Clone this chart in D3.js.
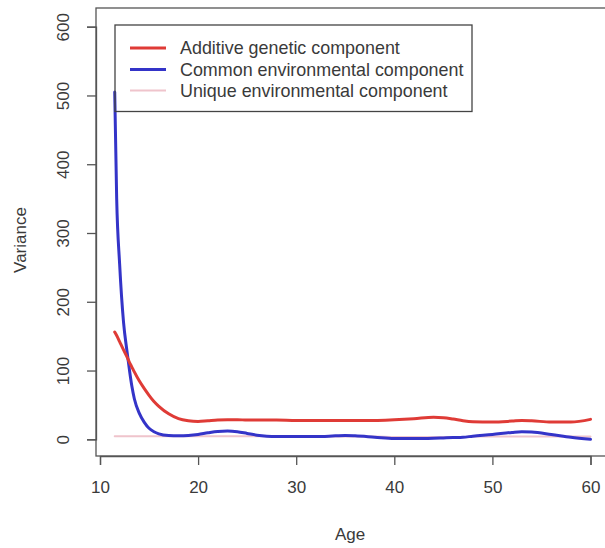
<!DOCTYPE html>
<html>
<head>
<meta charset="utf-8">
<script src="https://cdn.jsdelivr.net/npm/d3@7"></script>
<style>
  html, body { margin: 0; padding: 0; background: #fff; }
  svg { display: block; }
  text { font-family: "Liberation Sans", Arial, sans-serif; fill: #3a3a3a; }
</style>
</head>
<body>
<svg id="chart" width="605" height="548"></svg>
<script>
// Age grid shared by the three variance components
const ages = [11.5, 11.7, 12, 12.4, 12.75, 13, 13.25, 13.5, 14, 14.5, 15, 15.5, 16, 17, 18, 19, 20,
  21, 22, 23, 24, 25, 26, 27, 28, 30, 32, 34, 35, 36, 38, 40, 42, 44, 45, 46, 47, 48,
  50, 52, 53, 54, 56, 58, 60];

const additive = [156, 151, 142, 130, 120, 112, 105, 98, 85, 74, 64, 55, 48, 37, 30, 27, 26,
  27, 28, 28.5, 28.5, 28, 28, 28, 28, 27.5, 27.5, 27.5, 27.5, 27.5, 27.5, 28.5, 30, 32, 31.5, 29.5, 27, 25.5,
  25, 26.5, 27.5, 27, 25, 25, 29];

const commonEnv = [505, 350, 255, 170, 128, 101, 77, 59, 38, 25, 16, 11, 8, 5.5, 5, 5.5, 7,
  9.5, 11.5, 12, 11, 8.5, 6, 4.5, 4, 4, 4, 5, 5.5, 5, 3, 1, 1, 1.5, 2, 2.5, 3, 4.5,
  7, 10, 11, 10.5, 7, 3, 0];

const uniqueEnv = [4.5, 4.5, 4.5, 4.5, 4.5, 4.5, 4.5, 4.5, 4.5, 4.5, 4.5, 4.5, 4.5, 4.5, 4.5, 4.5, 4.5,
  4.5, 4.5, 4.5, 4.5, 4.5, 4.5, 4.5, 4.5, 4, 4, 4, 4, 4, 4, 3.5, 3.5, 3.5, 3.5, 3.5, 3.5, 4,
  4, 4, 4, 4, 4, 4, 4];

const xTicks = [10, 20, 30, 40, 50, 60];
const yTicks = [0, 100, 200, 300, 400, 500, 600];

const seriesNames = ["Additive genetic component", "Common environmental component", "Unique environmental component"];
const seriesColors = ["#df3b36", "#3434c8", "#efc4cc"];
const seriesWidths = [3, 3, 2];

const svg = d3.select("#chart");

// Plot frame
const box = { left: 96, right: 610, top: 8, bottom: 456 };

const x = d3.scaleLinear().domain([10, 60]).range([100, 590.5]);
const y = d3.scaleLinear().domain([0, 600]).range([439.3, 26.7]);

svg.append("rect")
  .attr("x", box.left).attr("y", box.top)
  .attr("width", box.right - box.left).attr("height", box.bottom - box.top)
  .attr("fill", "none").attr("stroke", "#555").attr("stroke-width", 1.3);

// X axis
const xAxis = svg.append("g")
  .attr("transform", `translate(0,${box.bottom})`)
  .call(d3.axisBottom(x).tickValues(xTicks).tickSize(9).tickPadding(16).tickFormat(d3.format("d")));
xAxis.select(".domain").attr("stroke", "#555").attr("stroke-width", 1.3);
xAxis.selectAll(".tick line").attr("stroke", "#555").attr("stroke-width", 1.3);
xAxis.selectAll(".tick text").attr("font-size", 17).style("fill", "#3a3a3a")
  .attr("font-family", "Liberation Sans, Arial, sans-serif");

// Y axis with rotated labels
const yAxis = svg.append("g")
  .attr("transform", `translate(${box.left},0)`)
  .call(d3.axisLeft(y).tickValues(yTicks).tickSize(9).tickFormat(d3.format("d")));
yAxis.select(".domain").attr("stroke", "#555").attr("stroke-width", 1.3);
yAxis.selectAll(".tick line").attr("stroke", "#555").attr("stroke-width", 1.3);
yAxis.selectAll(".tick text")
  .attr("font-size", 17).style("fill", "#3a3a3a")
  .attr("font-family", "Liberation Sans, Arial, sans-serif")
  .attr("x", null).attr("dy", null)
  .attr("text-anchor", "middle")
  .attr("dominant-baseline", "central")
  .attr("transform", "translate(-33,0) rotate(-90)");

// Axis titles
svg.append("text")
  .attr("x", 350).attr("y", 534)
  .attr("text-anchor", "middle").attr("dominant-baseline", "central")
  .attr("font-size", 17).text("Age");

svg.append("text")
  .attr("transform", "translate(20,240) rotate(-90)")
  .attr("text-anchor", "middle").attr("dominant-baseline", "central")
  .attr("font-size", 17).text("Variance");

// Curves
const line = d3.line().x(d => x(d[0])).y(d => y(d[1])).curve(d3.curveMonotoneX);
const seriesValues = [additive, commonEnv, uniqueEnv];
const drawOrder = [2, 1, 0];
const plot = svg.append("g");
drawOrder.forEach(i => {
  plot.append("path")
    .datum(ages.map((a, k) => [a, seriesValues[i][k]]))
    .attr("d", line)
    .attr("fill", "none")
    .attr("stroke", seriesColors[i])
    .attr("stroke-width", seriesWidths[i])
    .attr("stroke-linejoin", "round")
    .attr("stroke-linecap", "round");
});

// Legend
const legend = svg.append("g");
legend.append("rect")
  .attr("x", 115).attr("y", 25).attr("width", 357).attr("height", 86.5)
  .attr("fill", "none").attr("stroke", "#444").attr("stroke-width", 1.3);
const rowY = [48, 69.5, 90.5];
seriesNames.forEach((name, i) => {
  legend.append("line")
    .attr("x1", 130).attr("x2", 166).attr("y1", rowY[i]).attr("y2", rowY[i])
    .attr("stroke", seriesColors[i]).attr("stroke-width", seriesWidths[i]);
  legend.append("text")
    .attr("x", 180).attr("y", rowY[i])
    .attr("dominant-baseline", "central")
    .attr("font-size", 17.9).text(name);
});
</script>
</body>
</html>
